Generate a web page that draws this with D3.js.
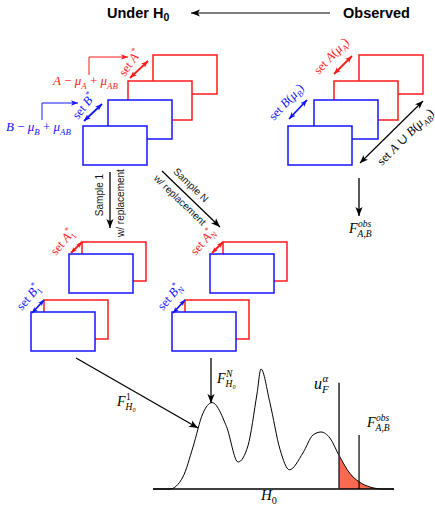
<!DOCTYPE html>
<html>
<head>
<meta charset="utf-8">
<script src="https://cdn.jsdelivr.net/npm/d3@7/dist/d3.min.js"></script>
<style>
  body { margin: 0; background: #fff; }
  svg { display: block; }
</style>
</head>
<body>
<svg id="fig" width="435" height="506"></svg>
<script>
// null distribution H0 (x: statistic 0-100, y: relative density)
const densX = [0, 7, 12.4, 16.6, 20.7, 24.5, 30.5, 35.3, 39.4, 43.2, 44.8, 48.5, 52.7, 56.6, 62.2, 66.4, 69.7, 73.4, 77.2, 81.7, 85.5, 90, 95.4, 100]
const densY = [0, 0, 0.10, 0.35, 0.63, 0.72, 0.52, 0.225, 0.36, 0.80, 1.0, 0.72, 0.33, 0.16, 0.30, 0.45, 0.475, 0.425, 0.28, 0.13, 0.06, 0.017, 0, 0]
const critValue = 77.2   // u_F^alpha
const obsValue = 85.5    // F_{A,B}^obs

const RED = '#ff1a1a', BLUE = '#1414ff', SERIF = '"Liberation Serif", "DejaVu Serif", serif'
const SP = '\u00a0'
const svg = d3.select('#fig')
const defs = svg.append('defs')

// arrow heads, one per colour / size
function head(color, size) {
  const id = 'h' + color.replace('#', '') + size
  if (defs.select('#' + id).empty()) {
    defs.append('marker')
      .attr('id', id)
      .attr('viewBox', '0 0 10 10')
      .attr('refX', 10).attr('refY', 5)
      .attr('markerUnits', 'userSpaceOnUse')
      .attr('markerWidth', size).attr('markerHeight', size)
      .attr('orient', 'auto-start-reverse')
      .append('path')
      .attr('d', 'M0,1 L10,5 L0,9 L2.5,5 Z')
      .attr('fill', color)
  }
  return `url(#${id})`
}

function arrow(pts, color = '#000', size = 9, both = false, w = 1.3) {
  const p = svg.append('path')
    .attr('d', d3.line()(pts))
    .attr('fill', 'none')
    .attr('stroke', color)
    .attr('stroke-width', w)
    .attr('marker-end', head(color, size))
  if (both) p.attr('marker-start', head(color, size))
  return p
}

// small math-ish label: segs = [text, italic?, sup, sub]
function mlabel(x, y, segs, o = {}) {
  const size = o.size || 12
  const g = svg.append('g')
    .attr('transform', `translate(${x},${y}) rotate(${o.rotate || 0})`)
    .attr('fill', o.color || '#000')
    .style('font-family', SERIF)
  const ital = s => /[0-9*,]/.test(s) && !/[A-Za-z]/.test(s) ? 'normal' : 'italic'
  let cx = 0
  segs.forEach(s => {
    const t = g.append('text').attr('x', cx).attr('font-size', size)
      .attr('font-style', s[1] ? 'italic' : 'normal').text(s[0].replace(/ /g, SP))
    cx += t.node().getComputedTextLength()
    let ws = 0
    if (s[2]) {
      const u = g.append('text').attr('x', cx + 0.5).attr('y', -size * 0.42)
        .attr('font-size', size * 0.68).attr('font-style', ital(s[2])).text(s[2])
      ws = Math.max(ws, u.node().getComputedTextLength() + 0.5)
    }
    if (s[3]) {
      const d = g.append('text').attr('x', cx).attr('y', size * 0.28)
        .attr('font-size', size * 0.68).attr('font-style', ital(s[3])).text(s[3])
      ws = Math.max(ws, d.node().getComputedTextLength())
    }
    cx += ws
  })
  return g
}

function sans(x, y, txt, rot, size = 10) {
  svg.append('text')
    .attr('transform', `translate(${x},${y}) rotate(${rot})`)
    .attr('text-anchor', 'middle')
    .attr('dominant-baseline', 'central')
    .style('font-family', '"Liberation Sans", Arial, sans-serif')
    .attr('font-size', size)
    .attr('fill', '#111')
    .text(txt)
}

// ---- title row
const title = (x, txt, sub) => {
  const t = svg.append('text').attr('x', x).attr('y', 18)
    .style('font-family', '"Liberation Sans", Arial, sans-serif')
    .attr('font-size', 14.5).attr('font-weight', 'bold').text(txt)
  if (sub) t.append('tspan').attr('dy', 3).attr('font-size', 10.5).text(sub)
}
title(107, 'Under H', '0')
title(343, 'Observed')
arrow([[330, 13], [191, 13]], '#000', 9, false, 1.2)

// ---- stacked sets
const RW = 64, RH = 39
function rect(x, y, color) {
  svg.append('rect').attr('x', x).attr('y', y).attr('width', RW).attr('height', RH)
    .attr('fill', '#fff').attr('stroke', color).attr('stroke-width', 1.5)
}
;[[153, 55, RED], [128, 81, RED], [108, 100, BLUE], [83, 126, BLUE]].forEach(r => rect(...r))
;[[359, 55, RED], [334, 81, RED], [314, 100, BLUE], [288, 126, BLUE]].forEach(r => rect(...r))
;[0, 141].forEach(dx => {
  rect(82 + dx, 242, RED); rect(69 + dx, 254, BLUE)
  rect(44 + dx, 300, RED); rect(31 + dx, 312, BLUE)
})

// shift arrows on the left
arrow([[89, 75], [89, 57], [128, 57]], RED, 7, false, 1)
arrow([[42, 120], [42, 103], [78, 103]], BLUE, 7, false, 1)
mlabel(53, 85, [['A ', 1], ['− ', 0], ['μ', 1, null, 'A'], [' + ', 0], ['μ', 1, null, 'AB']], { color: RED, size: 13 })
mlabel(6, 131, [['B ', 1], ['− ', 0], ['μ', 1, null, 'B'], [' + ', 0], ['μ', 1, null, 'AB']], { color: BLUE, size: 13 })

// set arrows
arrow([[130, 78], [148, 61]], RED, 7, true, 1.8)
arrow([[84, 121], [102, 104]], BLUE, 7, true, 1.8)
arrow([[334, 74], [352, 56]], RED, 7, true, 1.8)
arrow([[289, 119], [307, 100]], BLUE, 7, true, 1.8)
arrow([[360, 163], [423, 101]], '#000', 8, true, 1.2)
mlabel(125, 77, [['set ', 0], ['A', 1, '*']], { color: RED, rotate: -55, size: 12.5 })
mlabel(78, 120, [['set ', 0], ['B', 1, '*']], { color: BLUE, rotate: -52, size: 12.5 })
mlabel(319, 75, [['set ', 0], ['A', 1], ['(', 0], ['μ', 1, null, 'A'], [')', 0]], { color: RED, rotate: -47, size: 12.5 })
mlabel(274, 121, [['set ', 0], ['B', 1], ['(', 0], ['μ', 1, null, 'B'], [')', 0]], { color: BLUE, rotate: -47, size: 12.5 })
mlabel(382, 166, [['set ', 0], ['A', 1], [' ∪ ', 0], ['B', 1], ['(', 0], ['μ', 1, null, 'AB'], [')', 0]], { rotate: -45, size: 12.5 })

// observed statistic
arrow([[359, 178], [359, 216]], '#000', 9, false, 1.3)
mlabel(349, 233, [['F', 1, 'obs', 'A,B']], { size: 14 })

// resampling arrows
arrow([[110, 172], [110, 228]], '#000', 9, false, 1.3)
arrow([[162, 171], [220, 227]], '#000', 9, false, 1.3)
sans(99, 195, 'Sample 1', -90)
sans(120, 203, 'w/ replacement', -90)
sans(191, 185, 'Sample N', 44)
sans(180, 200, 'w/ replacement', 44)

// bootstrap set arrows
;[[0, '1'], [141, 'N']].forEach(([dx, k]) => {
  arrow([[71 + dx, 253], [82 + dx, 242]], RED, 6, true, 1.8)
  arrow([[32 + dx, 313], [44 + dx, 300]], BLUE, 6, true, 1.8)
  mlabel(56 + dx - (k === 'N' ? 1 : 0), 256, [['set ', 0], ['A', 1, '*', k]], { color: RED, rotate: -50, size: 12.5 })
  mlabel(22 + dx, 311, [['set ', 0], ['B', 1, '*', k]], { color: BLUE, rotate: -50, size: 12.5 })
})

// ---- null distribution
const x = d3.scaleLinear().domain([0, 100]).range([153, 394])
const y = d3.scaleLinear().domain([0, 1]).range([489, 369])
const pts = densX.map((v, i) => [v, densY[i]])

defs.append('clipPath').attr('id', 'tail').append('rect')
  .attr('x', x(critValue)).attr('y', 0).attr('width', x(100) - x(critValue)).attr('height', y(0))
svg.append('path')
  .datum(pts)
  .attr('clip-path', 'url(#tail)')
  .attr('fill', '#fa6a50')
  .attr('d', d3.area().x(d => x(d[0])).y0(y(0)).y1(d => y(d[1])).curve(d3.curveMonotoneX))
svg.append('path')
  .datum(pts)
  .attr('fill', 'none').attr('stroke', '#000').attr('stroke-width', 1)
  .attr('d', d3.line().x(d => x(d[0])).y(d => y(d[1])).curve(d3.curveMonotoneX))

svg.append('line').attr('x1', x(0)).attr('x2', x(100)).attr('y1', y(0)).attr('y2', y(0))
  .attr('stroke', '#000').attr('stroke-width', 1.3)
svg.append('line').attr('x1', x(critValue)).attr('x2', x(critValue)).attr('y1', y(0)).attr('y2', y(0.885))
  .attr('stroke', '#333').attr('stroke-width', 1.6)
svg.append('line').attr('x1', x(obsValue)).attr('x2', x(obsValue)).attr('y1', y(0)).attr('y2', y(0.45))
  .attr('stroke', '#000').attr('stroke-width', 1.2)

arrow([[76, 358], [198, 428]], '#000', 9, false, 1.3)
arrow([[211, 358], [211, 403]], '#000', 9, false, 1.3)
mlabel(117, 406, [['F', 1, '1', 'H₀']], { size: 14 })
mlabel(217, 383, [['F', 1, 'N', 'H₀']], { size: 14 })
mlabel(314, 389, [['u', 1, 'α', 'F']], { size: 16 })
mlabel(367, 427, [['F', 1, 'obs', 'A,B']], { size: 14 })
mlabel(261, 500, [['H', 1, null, '0']], { size: 15 })
</script>
</body>
</html>
